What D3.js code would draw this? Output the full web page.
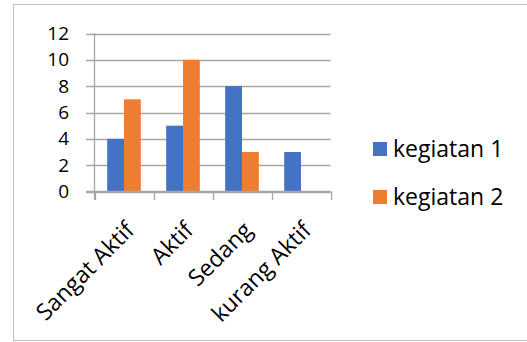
<!DOCTYPE html>
<html>
<head>
<meta charset="utf-8">
<script src="https://cdn.jsdelivr.net/npm/d3@7"></script>
<style>
  body { margin: 0; background: #fff; }
  text { font-family: "Open Sans", "Noto Sans", sans-serif; fill: #000; }
</style>
</head>
<body>
<svg id="chart" width="527" height="342"></svg>
<script>
"use strict";

// Data
var categories = ["Sangat Aktif", "Aktif", "Sedang", "kurang Aktif"];
var seriesNames = ["kegiatan 1", "kegiatan 2"];
var kegiatan1 = [4, 5, 8, 3];
var kegiatan2 = [7, 10, 3, 0];
var yTicks = [0, 2, 4, 6, 8, 10, 12];
var colours = ["#4472C4", "#ED7D31"];

var svg = d3.select("#chart");

// outer frame
svg.append("rect")
  .attr("x", 13.5).attr("y", 4.5)
  .attr("width", 530).attr("height", 336)
  .attr("fill", "none").attr("stroke", "#bfbfbf");

var x0 = d3.scaleBand().domain(categories).range([94.5, 330.5]).paddingInner(0.43).paddingOuter(0.215);
var x1 = d3.scaleBand().domain(seriesNames).range([0, x0.bandwidth()]);
var y = d3.scaleLinear().domain([0, 12]).range([191.5, 33.5]);

// gridlines
svg.append("g").selectAll("line").data(yTicks).join("line")
  .attr("x1", 86).attr("x2", 330.5)
  .attr("y1", d => Math.round(y(d)) + 0.5).attr("y2", d => Math.round(y(d)) + 0.5)
  .attr("stroke", "#a6a6a6").attr("stroke-width", 1.3);

// bars
var rows = categories.map((c, i) => ({ cat: c, vals: [kegiatan1[i], kegiatan2[i]] }));
var groups = svg.append("g").selectAll("g").data(rows).join("g")
  .attr("transform", d => "translate(" + x0(d.cat) + ",0)");
groups.selectAll("rect").data(d => d.vals.map((v, j) => ({ name: seriesNames[j], v: v, j: j })))
  .join("rect")
  .attr("x", d => x1(d.name))
  .attr("width", x1.bandwidth())
  .attr("y", d => y(d.v))
  .attr("height", d => y(0) - y(d.v))
  .attr("fill", d => colours[d.j]);

// y axis line
svg.append("line")
  .attr("x1", 94.5).attr("x2", 94.5).attr("y1", 33).attr("y2", 200)
  .attr("stroke", "#a6a6a6").attr("stroke-width", 1.3);

// x axis line + ticks
svg.append("line")
  .attr("x1", 86).attr("x2", 330.5).attr("y1", 191.5).attr("y2", 191.5)
  .attr("stroke", "#a6a6a6").attr("stroke-width", 1.3);
var tickX = categories.map(c => x0(c) - x0.step() * x0.paddingInner() / 2).concat([330.5]);
svg.append("g").selectAll("line").data(tickX).join("line")
  .attr("x1", d => Math.round(d) + 0.5).attr("x2", d => Math.round(d) + 0.5)
  .attr("y1", 191.5).attr("y2", 200)
  .attr("stroke", "#a6a6a6").attr("stroke-width", 1.3);

// y labels
svg.append("g").selectAll("text").data(yTicks).join("text")
  .attr("x", 69).attr("y", d => y(d))
  .attr("dy", "0.35em")
  .attr("text-anchor", "end")
  .style("font-size", "19px")
  .text(d => d);

// category labels, rotated
svg.append("g").selectAll("text").data(categories).join("text")
  .attr("transform", d => "translate(" + (x0(d) + x0.bandwidth() / 2 + 6) + ",226) rotate(-45)")
  .attr("text-anchor", "end")
  .attr("dy", "0.35em")
  .style("font-size", "23px")
  .text(d => d);

// legend
var legend = svg.append("g").selectAll("g").data(seriesNames).join("g")
  .attr("transform", (d, i) => "translate(373," + (142 + i * 48) + ")");
legend.append("rect").attr("width", 14).attr("height", 14).attr("fill", (d, i) => colours[i]);
legend.append("text").attr("x", 20).attr("y", 7).attr("dy", "0.35em")
  .style("font-size", "23px").text(d => d);
</script>
</body>
</html>
